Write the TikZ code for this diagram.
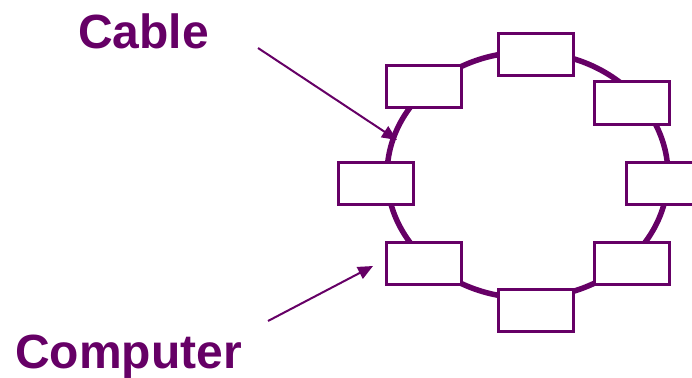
\documentclass[tikz,border=0pt]{standalone}
\usepackage{fontspec}
\setmainfont{Liberation Sans}
\usetikzlibrary{arrows.meta}
\definecolor{plum}{HTML}{660066}
\begin{document}
\begin{tikzpicture}[x=1pt,y=-1pt,
  comp/.style={draw=plum,line width=3pt,fill=white,minimum width=75pt,minimum height=42pt,inner sep=0pt,outer sep=0pt},
  lbl/.style={text=plum,font=\bfseries\fontsize{48}{52}\selectfont,anchor=base west,inner sep=0pt},
  pointer/.style={draw=plum,line width=2pt,-{Triangle[length=15pt,width=13pt]}}]
\useasboundingbox (0,0) rectangle (692,377);
\draw[plum,line width=5.5pt] (527.5,175) ellipse [x radius=140.5pt,y radius=123pt];
\node[comp] (t)  at (536,54.5) {};
\node[comp] (tl) at (424,86.5) {};
\node[comp] (tr) at (632,103) {};
\node[comp] (l)  at (376,183) {};
\node[comp] (r)  at (664,183) {};
\node[comp] (bl) at (424,263) {};
\node[comp] (br) at (632,263) {};
\node[comp] (b)  at (536,310.5) {};
\node[lbl] (cable) at (78,49) {Cable};
\node[lbl] (computer) at (15,368) {Computer};
\coordinate (ca) at (258,48);
\coordinate (cb) at (397,140);
\coordinate (pa) at (268,321);
\coordinate (pb) at (373,266);
\draw[pointer] (ca) -- (cb);
\draw[pointer] (pa) -- (pb);
\end{tikzpicture}
\end{document}
